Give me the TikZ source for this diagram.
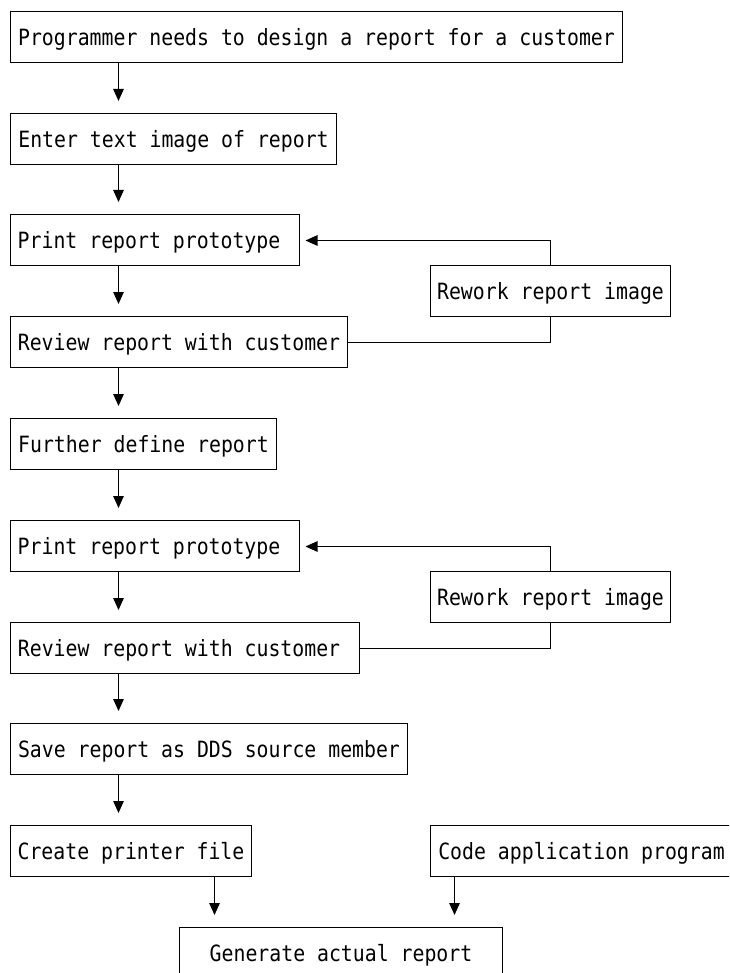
\documentclass[tikz,border=0pt]{standalone}
\usepackage{fontspec}
\newfontfamily\boxfont{DejaVu Sans Mono}[FakeStretch=0.885]
\usetikzlibrary{arrows.meta}
\tikzset{
  box/.style={draw, line width=1.3pt, anchor=north west, outer sep=0pt, inner xsep=6.5pt, inner ysep=0pt,
    minimum height=51pt, text height=16.3pt, text depth=0pt,
    font=\boxfont\fontsize{22.4pt}{26pt}\selectfont},
  arr/.style={line width=1.3pt, -{Triangle[length=12pt,width=10.5pt]}},
  conn/.style={line width=1.3pt}
}
\begin{document}
\begin{tikzpicture}[x=1pt,y=-1pt]
\useasboundingbox (0,0) rectangle (729,973);
\fill[white] (0,0) rectangle (729,973);
\clip (0,0) rectangle (729,973);
\node[box, minimum width=612pt] (b1) at (10.5,11.5) {Programmer needs to design a report for a customer};
\node[box, minimum width=326pt] (b2) at (10.5,113.5) {Enter text image of report};
\node[box, minimum width=289pt] (p1) at (10.5,214.5) {Print report prototype\hphantom{x}};
\node[box, minimum width=337pt] (r1) at (10.5,316.5) {Review report with customer};
\node[box, minimum width=240pt] (w1) at (430.5,265.5) {Rework report image};
\node[box, minimum width=266pt] (f) at (10.5,418.5) {Further define report};
\node[box, minimum width=289pt] (p2) at (10.5,520.5) {Print report prototype\hphantom{x}};
\node[box, minimum width=240pt] (w2) at (430.5,571.5) {Rework report image};
\node[box, minimum width=349pt] (r2) at (10.5,622.5) {Review report with customer\hphantom{x}};
\node[box, minimum width=397pt] (s) at (10.5,723.5) {Save report as DDS source member};
\node[box, minimum width=241pt] (c) at (10.5,825.5) {Create printer file};
\node[box, minimum width=302pt] (code) at (430.5,825.5) {Code application program};
\node[box, minimum width=323pt] (g) at (179.5,927.5) {Generate actual report};
\coordinate (ax) at (118.5,0);
\coordinate (ax2) at (214.5,0);
\coordinate (ax3) at (454.5,0);
\draw[arr, shorten >=12.5pt] (b1.south -| ax) -- (b2.north -| ax);
\draw[arr, shorten >=12.5pt] (b2.south -| ax) -- (p1.north -| ax);
\draw[arr, shorten >=12.5pt] (p1.south -| ax) -- (r1.north -| ax);
\draw[arr, shorten >=12.5pt] (r1.south -| ax) -- (f.north -| ax);
\draw[arr, shorten >=12.5pt] (f.south -| ax) -- (p2.north -| ax);
\draw[arr, shorten >=12.5pt] (p2.south -| ax) -- (r2.north -| ax);
\draw[arr, shorten >=12.5pt] (r2.south -| ax) -- (s.north -| ax);
\draw[arr, shorten >=12.5pt] (s.south -| ax) -- (c.north -| ax);
\draw[arr, shorten >=12.5pt] (c.south -| ax2) -- (g.north -| ax2);
\draw[arr, shorten >=12.5pt] (code.south -| ax3) -- (g.north -| ax3);
\draw[conn] ([yshift=-0.5pt]r1.east) -| (w1.south);
\draw[arr, shorten >=6pt] (w1.north) |- ([yshift=-0.5pt]p1.east);
\draw[conn] ([yshift=-0.5pt]r2.east) -| (w2.south);
\draw[arr, shorten >=6pt] (w2.north) |- ([yshift=-0.5pt]p2.east);
\end{tikzpicture}
\end{document}
